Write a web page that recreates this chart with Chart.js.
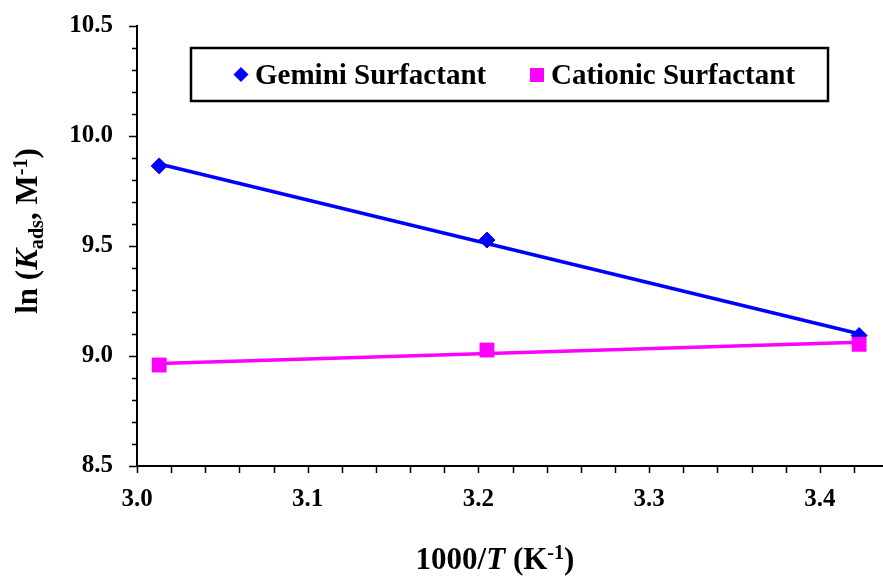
<!DOCTYPE html>
<html>
<head>
<meta charset="utf-8">
<script src="https://cdn.jsdelivr.net/npm/chart.js@4/dist/chart.umd.min.js"></script>
<style>
    html, body { margin: 0; padding: 0; background: #fff; }
    #Graph { display: block; }
</style>
</head>
<body>
<canvas id="Graph" width="883" height="579"></canvas>
<script>
const xValues = [3.013, 3.205, 3.423];
const geminiValues = [9.864, 9.527, 9.093];
const cationicValues = [8.959, 9.027, 9.053];

// trend lines
const fitX = [3.013, 3.423];
const geminiFit = [9.873, 9.101];
const cationicFit = [8.966, 9.063];

const xTicks = [3.0, 3.1, 3.2, 3.3, 3.4];
const yTicks = [8.5, 9.0, 9.5, 10.0, 10.5];
const seriesNames = ['Gemini Surfactant', 'Cationic Surfactant'];

const FONT = '"Liberation Serif", "Times New Roman", serif';

function toPoints(xs, ys) {
    return xs.map((x, i) => ({ x: x, y: ys[i] }));
}

const tickMarks = {
    id: 'tickMarks',
    afterDraw(chart) {
        const ctx = chart.ctx;
        const xs = chart.scales.x;
        const ys = chart.scales.y;
        const area = chart.chartArea;
        ctx.save();
        ctx.strokeStyle = '#000';
        ctx.lineWidth = 1.5;
        ctx.beginPath();
        for (let i = 0; i <= 20; i++) {
            const y = Math.round(ys.getPixelForValue(8.5 + i * 0.1)) + 0.5;
            const len = i % 5 === 0 ? 8 : 5;
            ctx.moveTo(area.left - len, y);
            ctx.lineTo(area.left, y);
        }
        for (let i = 0; 3.0 + i * 0.02 <= xs.max; i++) {
            const x = Math.round(xs.getPixelForValue(3.0 + i * 0.02)) + 0.5;
            ctx.moveTo(x, area.bottom);
            ctx.lineTo(x, area.bottom + 7);
        }
        ctx.stroke();
        ctx.restore();
    }
};

// draws a run of text parts: {t, italic, sub, sup}
function drawParts(ctx, parts, cx, baseY, size) {
    const fontFor = p => {
        const s = (p.sub || p.sup) ? size * 0.65 : size;
        return (p.italic ? 'italic ' : '') + 'bold ' + s + 'px ' + FONT;
    };
    let total = 0;
    parts.forEach(p => {
        ctx.font = fontFor(p);
        p.w = ctx.measureText(p.t).width;
        total += p.w;
    });
    let x = cx - total / 2;
    parts.forEach(p => {
        ctx.font = fontFor(p);
        let y = baseY;
        if (p.sub) y += size * 0.2;
        if (p.sup) y -= size * 0.33;
        ctx.fillText(p.t, x, y);
        x += p.w;
    });
}

const axisTitles = {
    id: 'axisTitles',
    afterDraw(chart) {
        const ctx = chart.ctx;
        ctx.save();
        ctx.fillStyle = '#000';
        ctx.textAlign = 'left';
        ctx.textBaseline = 'alphabetic';
        drawParts(ctx, [
            { t: '1000/' },
            { t: 'T', italic: true },
            { t: ' (K' },
            { t: '-1', sup: true },
            { t: ')' }
        ], 495, 569, 31);

        ctx.translate(37, 231);
        ctx.rotate(-Math.PI / 2);
        drawParts(ctx, [
            { t: 'ln (' },
            { t: 'K', italic: true },
            { t: 'ads', sub: true },
            { t: ', M' },
            { t: '-1', sup: true },
            { t: ')' }
        ], 0, 0, 31);
        ctx.restore();
    }
};

const boxLegend = {
    id: 'boxLegend',
    afterDraw(chart) {
        const ctx = chart.ctx;
        ctx.save();
        ctx.strokeStyle = '#000';
        ctx.lineWidth = 2.5;
        ctx.strokeRect(191, 48, 637, 53);

        ctx.fillStyle = '#0000ff';
        ctx.beginPath();
        ctx.moveTo(241 - 7.5, 74.5);
        ctx.lineTo(241, 67);
        ctx.lineTo(241 + 7.5, 74.5);
        ctx.lineTo(241, 82);
        ctx.closePath();
        ctx.fill();

        ctx.fillStyle = '#ff00ff';
        ctx.fillRect(530, 68, 14, 14);

        ctx.fillStyle = '#000';
        ctx.font = 'bold 29px ' + FONT;
        ctx.textBaseline = 'alphabetic';
        ctx.fillText(seriesNames[0], 255, 84);
        ctx.fillText(seriesNames[1], 551, 84);
        ctx.restore();
    }
};

const ctx = document.getElementById('Graph').getContext('2d');

new Chart(ctx, {
    data: {
        datasets: [
            {
                type: 'line',
                label: seriesNames[0] + ' fit',
                data: toPoints(fitX, geminiFit),
                borderColor: '#0000ff',
                borderWidth: 3.5,
                pointRadius: 0,
                order: 3
            },
            {
                type: 'line',
                label: seriesNames[1] + ' fit',
                data: toPoints(fitX, cationicFit),
                borderColor: '#ff00ff',
                borderWidth: 3.5,
                pointRadius: 0,
                order: 2
            },
            {
                type: 'scatter',
                label: seriesNames[0],
                data: toPoints(xValues, geminiValues),
                pointStyle: 'rectRot',
                pointRadius: 8,
                backgroundColor: '#0000ff',
                borderColor: '#0000ff',
                borderWidth: 1,
                order: 1
            },
            {
                type: 'scatter',
                label: seriesNames[1],
                data: toPoints(xValues, cationicValues),
                pointStyle: 'rect',
                pointRadius: 10.5,
                backgroundColor: '#ff00ff',
                borderColor: '#ff00ff',
                borderWidth: 0,
                order: 0
            }
        ]
    },
    options: {
        responsive: false,
        animation: false,
        layout: { autoPadding: false, padding: { top: 26, right: 0, left: 0, bottom: 0 } },
        plugins: {
            legend: { display: false },
            tooltip: { enabled: false }
        },
        scales: {
            x: {
                type: 'linear',
                min: 3.0,
                max: 3.437,
                afterBuildTicks: scale => { scale.ticks = xTicks.map(v => ({ value: v })); },
                afterFit: scale => {
                    scale.height = 113;
                    scale.paddingLeft = 0;
                    scale.paddingRight = 0;
                },
                grid: { display: false, drawTicks: false },
                border: { display: true, color: '#000', width: 2 },
                ticks: {
                    padding: 19,
                    autoSkip: false,
                    maxRotation: 0,
                    color: '#000',
                    font: { family: FONT, size: 25, weight: 'bold' },
                    callback: v => v.toFixed(1)
                }
            },
            y: {
                type: 'linear',
                min: 8.5,
                max: 10.5,
                afterBuildTicks: scale => { scale.ticks = yTicks.map(v => ({ value: v })); },
                afterFit: scale => {
                    scale.width = 137;
                    scale.paddingTop = 0;
                    scale.paddingBottom = 0;
                },
                grid: { display: false, drawTicks: false },
                border: { display: true, color: '#000', width: 2 },
                ticks: {
                    padding: 24,
                    autoSkip: false,
                    color: '#000',
                    font: { family: FONT, size: 25, weight: 'bold' },
                    callback: v => v.toFixed(1)
                }
            }
        }
    },
    plugins: [tickMarks, axisTitles, boxLegend]
});
</script>
</body>
</html>
